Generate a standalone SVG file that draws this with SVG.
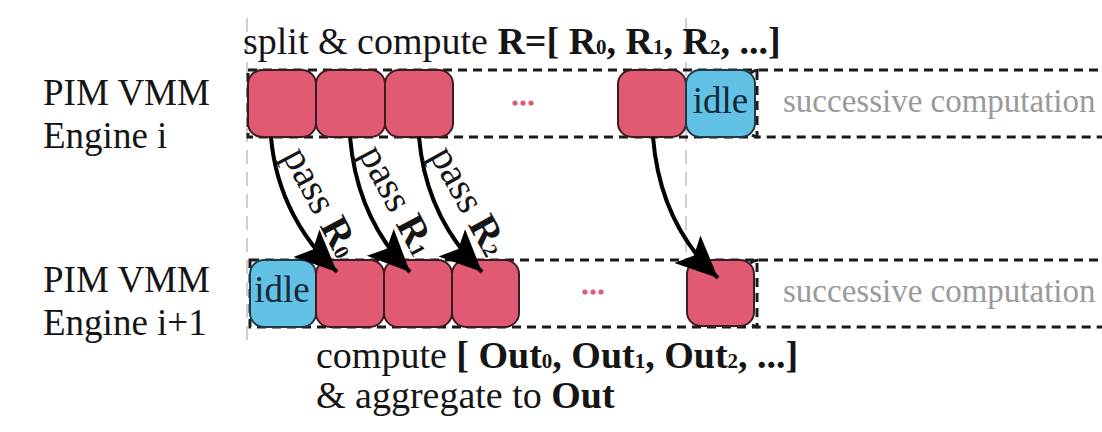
<svg xmlns="http://www.w3.org/2000/svg" width="1102" height="432" viewBox="0 0 1102 432">
  <defs>
    <style>
      .lbl { font-family: "Liberation Serif", "Times New Roman", serif; fill: #151515; }
      .b { font-weight: bold; }
      .sub { font-size: 21px; }
      .guide { stroke: #cfcfcf; stroke-width: 2; stroke-dasharray: 14 8; fill: none; }
      .lane { stroke: #1a1a1a; stroke-width: 3; stroke-dasharray: 9 6; fill: none; }
      .work { fill: #e15a73; stroke: #3b1c22; stroke-width: 2; }
      .idle { fill: #62c2e6; stroke: #1f3a48; stroke-width: 2; }
      .idletxt { font-family: "Liberation Serif", "Times New Roman", serif; font-size: 37px; fill: #15283a; }
      .succ { font-family: "Liberation Serif", "Times New Roman", serif; font-size: 33px; fill: #9a9a9a; }
      .dot { fill: #e15a73; }
      .arrow { stroke: #000; stroke-width: 4; fill: none; marker-end: url(#head); }
    </style>
    <marker id="head" markerUnits="userSpaceOnUse" markerWidth="50" markerHeight="44" refX="42" refY="19" orient="auto">
      <path d="M42,19 L0,0 L9,19 L0,38 Z" fill="#000"/>
    </marker>
  </defs>

  <rect width="1102" height="432" fill="#ffffff"/>

  <!-- time guides -->
  <g id="guides">
    <line class="guide" x1="247" y1="18" x2="247" y2="340"/>
    <line class="guide" x1="686" y1="18" x2="686" y2="258"/>
  </g>

  <!-- engine labels -->
  <g id="engine-i-label">
    <text class="lbl" x="43" y="105" font-size="37">PIM VMM</text>
    <text class="lbl" x="43" y="148" font-size="37">Engine i</text>
  </g>
  <g id="engine-i1-label">
    <text class="lbl" x="43" y="292" font-size="37">PIM VMM</text>
    <text class="lbl" x="43" y="335" font-size="37">Engine i+1</text>
  </g>

  <!-- top caption -->
  <g id="split-caption">
    <text class="lbl" x="243" y="54" font-size="38">split &amp; compute <tspan class="b">R=[ R<tspan class="sub">0</tspan>, R<tspan class="sub">1</tspan>, R<tspan class="sub">2</tspan>, ...]</tspan></text>
  </g>

  <!-- lanes -->
  <g id="lanes">
    <rect class="lane" x="248" y="70" width="509" height="67"/>
    <rect class="lane" x="745" y="70" width="400" height="67" rx="14"/>
    <rect class="lane" x="250" y="260" width="507" height="67"/>
    <rect class="lane" x="745" y="260" width="400" height="67" rx="14"/>
  </g>

  <!-- engine i blocks -->
  <g id="ei-r0"><rect class="work" x="248" y="70" width="68" height="67" rx="14"/></g>
  <g id="ei-r1"><rect class="work" x="316" y="70" width="69" height="67" rx="14"/></g>
  <g id="ei-r2"><rect class="work" x="385" y="70" width="68" height="67" rx="14"/></g>
  <g id="ei-dots">
    <circle class="dot" cx="515" cy="103" r="2.6"/>
    <circle class="dot" cx="523" cy="103" r="2.6"/>
    <circle class="dot" cx="531" cy="103" r="2.6"/>
  </g>
  <g id="ei-rn"><rect class="work" x="618" y="70" width="68" height="67" rx="14"/></g>
  <g id="ei-idle">
    <rect class="idle" x="686" y="70" width="69" height="67" rx="14"/>
    <text class="idletxt" x="720.5" y="113" text-anchor="middle">idle</text>
  </g>
  <g id="ei-succ"><text class="succ" x="783" y="112">successive computation</text></g>

  <!-- engine i+1 blocks -->
  <g id="ei1-idle">
    <rect class="idle" x="250" y="260" width="66" height="67" rx="14"/>
    <text class="idletxt" x="282" y="302" text-anchor="middle">idle</text>
  </g>
  <g id="ei1-o0"><rect class="work" x="316" y="260" width="68" height="67" rx="14"/></g>
  <g id="ei1-o1"><rect class="work" x="384" y="260" width="68" height="67" rx="14"/></g>
  <g id="ei1-o2"><rect class="work" x="452" y="260" width="67" height="67" rx="14"/></g>
  <g id="ei1-dots">
    <circle class="dot" cx="585" cy="292" r="2.6"/>
    <circle class="dot" cx="593" cy="292" r="2.6"/>
    <circle class="dot" cx="601" cy="292" r="2.6"/>
  </g>
  <g id="ei1-on"><rect class="work" x="687" y="260" width="67" height="66" rx="14"/></g>
  <g id="ei1-succ"><text class="succ" x="783" y="302">successive computation</text></g>

  <!-- transfers between engines -->
  <g id="connectors">
    <path class="arrow" d="M271,137 C276,195 303,240 337,272"/>
    <path class="arrow" d="M350,137 C355,195 378,240 410,272"/>
    <path class="arrow" d="M419,137 C424,195 449,240 482,272"/>
    <path class="arrow" d="M653,137 C658,200 684,246 718,278"/>
  </g>

  <!-- transfer labels -->
  <g id="pass-labels">
    <text class="lbl" font-size="40" text-anchor="middle" transform="translate(310,208) rotate(62)">pass <tspan class="b">R<tspan class="sub">0</tspan></tspan></text>
    <text class="lbl" font-size="40" text-anchor="middle" transform="translate(386,206) rotate(62)">pass <tspan class="b">R<tspan class="sub">1</tspan></tspan></text>
    <text class="lbl" font-size="40" text-anchor="middle" transform="translate(458,207) rotate(61)">pass <tspan class="b">R<tspan class="sub">2</tspan></tspan></text>
  </g>

  <!-- bottom caption -->
  <g id="aggregate-caption">
    <text class="lbl" x="316" y="368" font-size="38">compute <tspan class="b">[ Out<tspan class="sub">0</tspan>, Out<tspan class="sub">1</tspan>, Out<tspan class="sub">2</tspan>, ...]</tspan></text>
    <text class="lbl" x="316" y="408" font-size="38">&amp; aggregate to <tspan class="b">Out</tspan></text>
  </g>
</svg>
